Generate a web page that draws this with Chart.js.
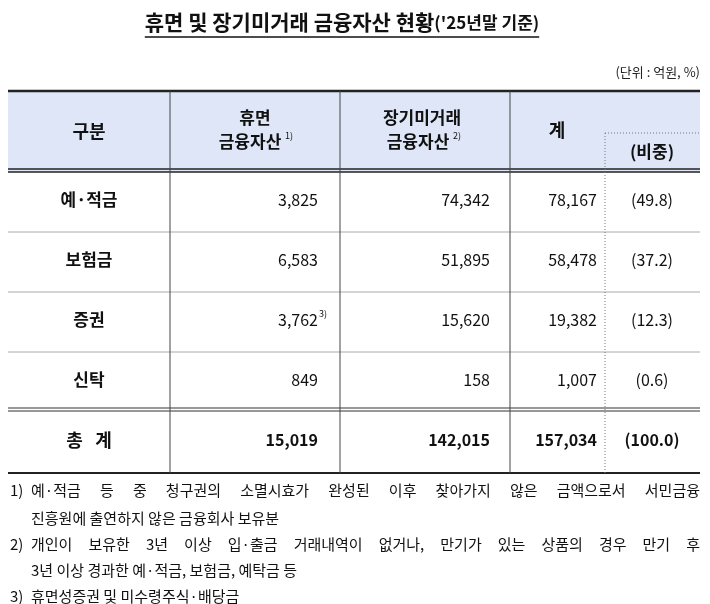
<!DOCTYPE html>
<html>
<head>
<meta charset="utf-8">
<script src="https://cdn.jsdelivr.net/npm/chart.js@4"></script>
<style>
  html, body { margin: 0; padding: 0; background: #fff; }
  #wrap { width: 710px; height: 604px; }
</style>
</head>
<body>
<div id="wrap"><canvas id="tbl"></canvas></div>
<script>
const title = '휴면 및 장기미거래 금융자산 현황';
const titleSub = "('25년말 기준)";
const unitLabel = '(단위 : 억원, %)';
const categories = ['예·적금', '보험금', '증권', '신탁'];
const dormant = ['3,825', '6,583', '3,762', '849'];
const dormantNotes = ['', '', '3)', ''];
const longIdle = ['74,342', '51,895', '15,620', '158'];
const totals = ['78,167', '58,478', '19,382', '1,007'];
const shares = ['(49.8)', '(37.2)', '(12.3)', '(0.6)'];
const sumRow = ['총   계', '15,019', '142,015', '157,034', '(100.0)'];
const footnotes = [
  ['1)', '예·적금 등 중 청구권의 소멸시효가 완성된 이후 찾아가지 않은 금액으로서 서민금융', true],
  ['', '진흥원에 출연하지 않은 금융회사 보유분', false],
  ['2)', '개인이 보유한 3년 이상 입·출금 거래내역이 없거나, 만기가 있는 상품의 경우 만기 후', true],
  ['', '3년 이상 경과한 예·적금, 보험금, 예탁금 등', false],
  ['3)', '휴면성증권 및 미수령주식·배당금', false]
];

const F = '"Noto Sans CJK KR", "Noto Sans", sans-serif';

// column edges and row edges in scale units (scale spans 0..710 x 0..604)
const colX = [8, 170, 340, 510, 605, 700];
const rowY = [91, 172, 232, 292, 352, 411, 473];

const tablePlugin = {
  id: 'tablePlugin',
  afterDraw(chart) {
    const ctx = chart.ctx;
    const sx = chart.scales.x, sy = chart.scales.y;
    const X = v => sx.getPixelForValue(v);
    const Y = v => sy.getPixelForValue(v);
    const txt = (s, x, y, size, bold, align, color) => {
      ctx.font = (bold ? 'bold ' : '') + size + 'px ' + F;
      ctx.fillStyle = color || '#111';
      ctx.textAlign = align || 'center';
      ctx.textBaseline = 'middle';
      ctx.fillText(s, x, y);
    };
    const hline = (y, x0, x1, w, color) => {
      ctx.beginPath(); ctx.lineWidth = w; ctx.strokeStyle = color || '#222';
      ctx.moveTo(X(x0), Y(y)); ctx.lineTo(X(x1), Y(y)); ctx.stroke();
    };
    const vline = (x, y0, y1, w, color, dash) => {
      ctx.beginPath(); ctx.lineWidth = w; ctx.strokeStyle = color || '#444';
      ctx.setLineDash(dash || []);
      ctx.moveTo(X(x), Y(y0)); ctx.lineTo(X(x), Y(y1)); ctx.stroke();
      ctx.setLineDash([]);
    };
    ctx.save();

    // title
    ctx.font = 'bold 21px ' + F;
    const w1 = ctx.measureText(title).width;
    ctx.font = 'bold 17px ' + F;
    const w2 = ctx.measureText(titleSub).width;
    const tx = X(342) - (w1 + w2) / 2;
    txt(title, tx, Y(22), 21, true, 'left');
    txt(titleSub, tx + w1, Y(23), 17, true, 'left');
    ctx.beginPath(); ctx.lineWidth = 1.5; ctx.strokeStyle = '#111';
    ctx.moveTo(tx, Y(37)); ctx.lineTo(tx + w1 + w2, Y(37)); ctx.stroke();

    txt(unitLabel, X(700), Y(72), 13, false, 'right', '#222');

    // header background
    ctx.fillStyle = '#dfe6f7';
    ctx.fillRect(X(colX[0]), Y(rowY[0]), X(colX[5]) - X(colX[0]), Y(rowY[1]) - Y(rowY[0]));

    // horizontal lines
    hline(rowY[0], colX[0], colX[5], 2.5);
    hline(rowY[1] - 3, colX[0], colX[5], 1.5);
    hline(rowY[1], colX[0], colX[5], 1.5);
    for (let i = 2; i <= 4; i++) hline(rowY[i], colX[0], colX[5], 1, '#aaa');
    hline(rowY[5] - 3, colX[0], colX[5], 1.2, '#333');
    hline(rowY[5], colX[0], colX[5], 1.2, '#333');
    hline(rowY[6], colX[0], colX[5], 2);

    // vertical lines
    for (let i = 1; i <= 3; i++) vline(colX[i], rowY[0], rowY[6], 1);
    vline(colX[4], 133, rowY[6], 1, '#777', [1, 2]);
    ctx.beginPath(); ctx.setLineDash([1, 2]); ctx.strokeStyle = '#777'; ctx.lineWidth = 1;
    ctx.moveTo(X(colX[4]), Y(133)); ctx.lineTo(X(colX[5]), Y(133)); ctx.stroke();
    ctx.setLineDash([]);

    // header text
    txt('구분', X(89), Y(131), 18, true);
    txt('휴면', X(255), Y(118), 17, true);
    txt('금융자산', X(250), Y(142), 17, true);
    txt('1)', X(285), Y(136), 9, false, 'left');
    txt('장기미거래', X(422), Y(118), 17, true);
    txt('금융자산', X(418), Y(142), 17, true);
    txt('2)', X(453), Y(136), 9, false, 'left');
    txt('계', X(557), Y(130), 18, true);
    txt('(비중)', X(652), Y(152), 17, true);

    // body rows
    categories.forEach((c, i) => {
      const cy = Y((rowY[i + 1] + rowY[i + 2]) / 2 - 2);
      txt(c, X(89), cy, 17, true);
      txt(dormant[i], X(318), cy, 16, false, 'right');
      if (dormantNotes[i]) txt(dormantNotes[i], X(319), cy - 6, 9, false, 'left');
      txt(longIdle[i], X(490), cy, 16, false, 'right');
      txt(totals[i], X(597), cy, 16, false, 'right');
      txt(shares[i], X(652), cy, 16, false, 'center');
    });

    // total row
    const ty = Y(440);
    txt(sumRow[0], X(89), ty, 18, true);
    txt(sumRow[1], X(318), ty, 16, true, 'right');
    txt(sumRow[2], X(490), ty, 16, true, 'right');
    txt(sumRow[3], X(597), ty, 16, true, 'right');
    txt(sumRow[4], X(652), ty, 16, true, 'center');

    // footnotes (lines 1 and 3 justified to the right edge)
    const fy = [490, 518, 544, 570, 596];
    const fs = 15;
    footnotes.forEach((f, i) => {
      if (f[0]) txt(f[0], X(10), Y(fy[i]), fs, false, 'left');
      if (!f[2]) { txt(f[1], X(31), Y(fy[i]), fs, false, 'left'); return; }
      ctx.font = fs + 'px ' + F;
      const words = f[1].split(' ');
      const wsum = words.reduce((a, w) => a + ctx.measureText(w).width, 0);
      const gap = (X(700) - X(31) - wsum) / (words.length - 1);
      let x = X(31);
      words.forEach(w => {
        txt(w, x, Y(fy[i]), fs, false, 'left');
        x += ctx.measureText(w).width + gap;
      });
    });

    ctx.restore();
  }
};

new Chart(document.getElementById('tbl'), {
  type: 'scatter',
  data: { datasets: [{ data: [] }] },
  options: {
    responsive: true,
    maintainAspectRatio: false,
    animation: false,
    layout: { padding: 0 },
    plugins: { legend: { display: false }, tooltip: { enabled: false } },
    scales: {
      x: { type: 'linear', min: 0, max: 710, display: false },
      y: { type: 'linear', min: 0, max: 604, reverse: true, display: false }
    }
  },
  plugins: [tablePlugin]
});
</script>
</body>
</html>
